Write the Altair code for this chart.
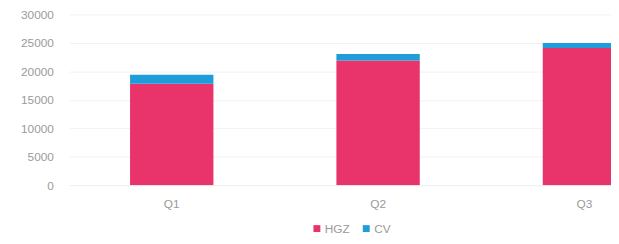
import altair as alt
import pandas as pd

quarters = ["Q1", "Q2", "Q3"]
hgz = [17800, 21900, 24100]
cv = [1600, 1150, 900]
series = ["HGZ", "CV"]
colors = ["#E8346A", "#1E9DDA"]

rows = []
for q, h, c in zip(quarters, hgz, cv):
    rows.append({"quarter": q, "series": "HGZ", "value": h, "ord": 0})
    rows.append({"quarter": q, "series": "CV", "value": c, "ord": 1})
df = pd.DataFrame(rows)

chart = alt.Chart(df).mark_bar(clip=True).encode(
    x=alt.X("quarter:N", sort=quarters,
            scale=alt.Scale(domain=quarters, range=[2, 628], paddingInner=0.596, paddingOuter=0.295),
            axis=alt.Axis(title=None, labelAngle=0, labelColor="#9a9a9a", labelFontSize=12,
                          labelFont="Liberation Sans", labelPadding=14, ticks=False,
                          domainColor="#f0f0f0", grid=False)),
    y=alt.Y("value:Q", stack="zero",
            scale=alt.Scale(domain=[0, 30000]),
            axis=alt.Axis(title=None, values=[0, 5000, 10000, 15000, 20000, 25000, 30000],
                          labelColor="#9a9a9a", labelFontSize=12, labelFont="Liberation Sans",
                          labelPadding=14, ticks=False, domain=False, format="d",
                          gridColor="#f2f2f2")),
    color=alt.Color("series:N", scale=alt.Scale(domain=series, range=colors),
                    legend=alt.Legend(title=None, orient="none", legendX=247, legendY=211,
                                      direction="horizontal", symbolType="square", symbolSize=49,
                                      labelColor="#9a9a9a", labelFontSize=12, labelOffset=2,
                                      labelFont="Liberation Sans", columnPadding=10,
                                      symbolStrokeWidth=0)),
    order=alt.Order("ord:Q"),
).properties(
    width=551, height=173,
    autosize=alt.AutoSizeParams(type="none"),
    padding={"left": 60, "top": 5, "right": 0, "bottom": 50},
    background="white",
).configure_view(stroke=None)

chart.save("out.html", embed_options={"renderer": "svg", "actions": False})
